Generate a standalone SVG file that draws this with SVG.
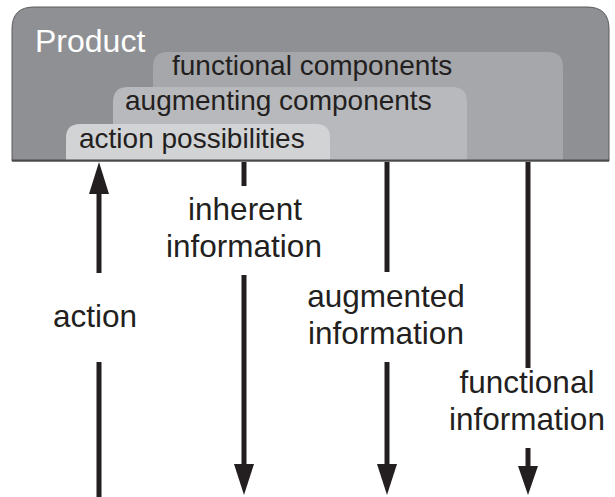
<svg xmlns="http://www.w3.org/2000/svg" width="615" height="497" viewBox="0 0 615 497">
<defs>
<style>
.t{font-family:"Liberation Sans",Arial,sans-serif;fill:#231f20}
.box{font-size:28px}
.lab{font-size:31.5px;text-anchor:middle}
.ln{stroke:#231f20;stroke-width:5;fill:none}
.hd{fill:#231f20}
</style>
</defs>
<g id="product">
<path d="M12,161 V29 Q12,7 34,7 H587 Q609,7 609,29 V161 Z" fill="#8f9094" stroke="#5a5a5c" stroke-width="1"/>
<text x="35" y="52" font-family="'Liberation Sans',Arial,sans-serif" font-size="32" fill="#ffffff">Product</text>
</g>
<g id="functional-components">
<path d="M153,161 V67 Q153,52 168,52 H548 Q563,52 563,67 V161 Z" fill="#a6a7ab"/>
<text class="t box" x="172" y="75">functional components</text>
</g>
<g id="augmenting-components">
<path d="M113,161 V102 Q113,87 128,87 H452 Q467,87 467,102 V161 Z" fill="#b8b9bc"/>
<text class="t box" x="125" y="110">augmenting components</text>
</g>
<g id="action-possibilities">
<path d="M66,161 V138 Q66,124 80,124 H316 Q330,124 330,138 V161 Z" fill="#d2d3d5"/>
<text class="t box" x="79" y="148">action possibilities</text>
</g>
<line x1="12" y1="160.5" x2="609" y2="160.5" stroke="#4a4a4c" stroke-width="2"/>
<g id="connectors">
<g id="action">
<line class="ln" x1="99" y1="273" x2="99" y2="190"/>
<polygon class="hd" points="99,162 89,194 109,194"/>
<line class="ln" x1="99" y1="362" x2="99" y2="497"/>
<text class="t lab" x="95" y="327">action</text>
</g>
<g id="inherent">
<line class="ln" x1="244" y1="162" x2="244" y2="186"/>
<text class="t lab" x="245" y="220">inherent</text>
<text class="t lab" x="244" y="257">information</text>
<line class="ln" x1="244" y1="275" x2="244" y2="468"/>
<polygon class="hd" points="244,495 234,464 254,464"/>
</g>
<g id="augmented">
<line class="ln" x1="387" y1="162" x2="387" y2="272"/>
<text class="t lab" x="386" y="307">augmented</text>
<text class="t lab" x="386" y="344">information</text>
<line class="ln" x1="387" y1="362" x2="387" y2="468"/>
<polygon class="hd" points="387,495 377,464 397,464"/>
</g>
<g id="functional">
<line class="ln" x1="528" y1="162" x2="528" y2="368"/>
<text class="t lab" x="527" y="393">functional</text>
<text class="t lab" x="527" y="430">information</text>
<line class="ln" x1="528" y1="448" x2="528" y2="470"/>
<polygon class="hd" points="528,495 518,466 538,466"/>
</g>
</g>
</svg>
